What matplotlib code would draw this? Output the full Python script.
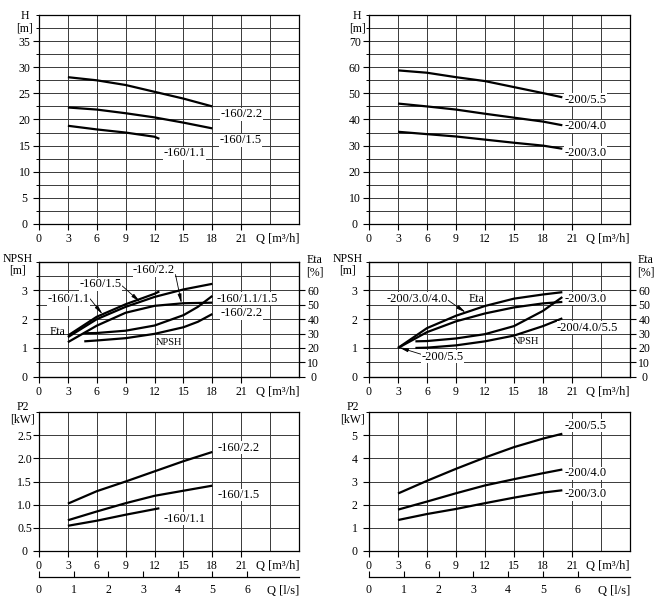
import numpy as np
import matplotlib.pyplot as plt
from matplotlib.ticker import FuncFormatter

plt.rcParams['font.family'] = ['Liberation Serif', 'DejaVu Serif']
plt.rcParams['font.size'] = 8.5

# ---- data ----
# 160 series (m3/h)
q_160 = [3, 6, 9, 12, 15, 18]
q_160_11 = [3, 6, 9, 12, 12.5]
h_160_22 = [28.1, 27.5, 26.6, 25.3, 24.0, 22.5]
h_160_15 = [22.3, 21.9, 21.2, 20.4, 19.4, 18.3]
h_160_11 = [18.8, 18.1, 17.5, 16.7, 16.3]

eta_160_15 = [27.5, 40.0, 48.6, 55.5, 60.7, 64.6]
eta_160_22 = [24.0, 35.5, 44.5, 49.3, 51.1, 51.5]
eta_160_11 = [28.6, 41.7, 50.4, 57.7, 59.3]

q_160_npsh = [4.7, 6, 9, 12, 15, 16.5, 18]
npsh_160_1115 = [1.51, 1.52, 1.60, 1.78, 2.14, 2.43, 2.81]
npsh_160_22 = [1.23, 1.26, 1.34, 1.49, 1.72, 1.91, 2.18]

p2_160_22 = [1.02, 1.29, 1.50, 1.72, 1.94, 2.14]
p2_160_15 = [0.66, 0.85, 1.03, 1.19, 1.30, 1.41]
p2_160_11 = [0.54, 0.65, 0.78, 0.90, 0.92]

# 200 series (m3/h)
q_200 = [3, 6, 9, 12, 15, 18, 20]
h_200_55 = [58.8, 57.9, 56.2, 54.7, 52.4, 50.1, 48.5]
h_200_40 = [46.1, 45.0, 43.8, 42.2, 40.7, 39.2, 37.8]
h_200_30 = [35.3, 34.4, 33.5, 32.3, 31.1, 30.0, 28.8]

eta_200_3040 = [20.0, 33.8, 42.4, 49.2, 54.3, 57.2, 58.8]
eta_200_55 = [20.0, 31.0, 38.5, 44.0, 48.2, 51.0, 52.0]

q_200_npsh = [4.8, 6, 9, 12, 15, 18, 20]
npsh_200_30 = [1.23, 1.24, 1.33, 1.48, 1.76, 2.29, 2.77]
npsh_200_4055 = [1.00, 1.01, 1.09, 1.23, 1.43, 1.76, 2.03]

p2_200_55 = [2.48, 3.03, 3.55, 4.04, 4.49, 4.86, 5.07]
p2_200_40 = [1.78, 2.13, 2.49, 2.83, 3.10, 3.36, 3.52]
p2_200_30 = [1.33, 1.59, 1.81, 2.06, 2.30, 2.52, 2.62]

x_ticks = list(range(0, 22, 3))
ls_ticks = list(range(0, 7))

W, H = 666, 610
fig = plt.figure(figsize=(W / 100, H / 100), dpi=100)

cols = [(39, 299), (369, 630)]
rows = [(15, 224), (261.7, 376.7), (412.3, 550.7)]


def make_ax(col, row):
    x0, x1 = cols[col]
    y0, y1 = rows[row]
    return fig.add_axes([x0 / W, 1 - y1 / H, (x1 - x0) / W, (y1 - y0) / H])


def center_ylabels(ax):
    # tick numbers sit centred in the margin, as in the original sheet
    ax.tick_params(axis='y', which='major', pad=6)
    for t in ax.get_yticklabels():
        t.set_horizontalalignment('center')


def setup(ax, ymax, ymajor, ygrid, fmt=None):
    ax.set_xlim(0, 27)
    ax.set_ylim(0, ymax)
    ax.set_xticks(x_ticks)
    ax.set_xticks([24], minor=True)
    ax.set_yticks(np.arange(0, ymax - 1e-9, ymajor))
    ax.set_yticks(np.arange(0, ymax + 1e-9, ygrid), minor=True)
    if fmt:
        ax.yaxis.set_major_formatter(FuncFormatter(fmt))
    ax.grid(True, which='both', color='#3a3a3a', lw=0.7)
    ax.set_axisbelow(True)
    ax.tick_params(which='major', direction='out', length=4.3, width=0.8, pad=2.5)
    ax.tick_params(axis='y', which='minor', direction='out', length=2.2, width=0.7)
    ax.tick_params(axis='x', which='minor', length=0)
    center_ylabels(ax)
    for s in ax.spines.values():
        s.set_linewidth(0.9)
    ax.annotate('Q [m³/h]', xy=(1, 0), xycoords='axes fraction',
                xytext=(0, -6.5), textcoords='offset points', ha='right', va='top',
                fontsize=9)


def unit_left(ax, text, dy, dx=-4.3):
    ax.annotate(text, xy=(0, 1), xycoords='axes fraction', xytext=(dx, dy),
                textcoords='offset points', ha='right', va='center',
                multialignment='center', linespacing=1.05, fontsize=8.5)


def eta_axis(ax):
    ax2 = ax.twinx()
    ax2.set_ylim(0, 80)
    ax2.set_yticks(range(0, 61, 10))
    ax2.tick_params(direction='out', length=4.3, width=0.8)
    center_ylabels(ax2)
    ax2.annotate('Eta\n[%]', xy=(1, 1), xycoords='axes fraction', xytext=(5, -3.6),
                 textcoords='offset points', ha='left', va='center',
                 multialignment='center', linespacing=1.05, fontsize=8.5)
    return ax2


def lab(ax, x, y, text, **kw):
    ax.text(x, y, text, ha=kw.pop('ha', 'left'), va='center', fontsize=9,
            bbox=dict(facecolor='white', edgecolor='none', pad=0.3), zorder=4, **kw)


def leader(ax, text, tip, txt, relpos):
    ax.annotate(text, xy=tip, xytext=txt, ha='left', va='center', fontsize=9,
                bbox=dict(facecolor='white', edgecolor='none', pad=0.3),
                arrowprops=dict(arrowstyle='-|>,head_length=0.6,head_width=0.12',
                                color='black', lw=0.6, relpos=relpos,
                                shrinkA=0, shrinkB=0), zorder=4)


def flow_ls(ax):
    sec = ax.secondary_xaxis(-0.19, functions=(lambda q: q / 3.6, lambda l: l * 3.6))
    sec.set_xticks(ls_ticks)
    sec.tick_params(direction='in', length=4.3, width=0.8, pad=5)
    sec.spines['bottom'].set_linewidth(0.9)
    ax.annotate('Q [l/s]', xy=(1, -0.19), xycoords='axes fraction',
                xytext=(0, -5.5), textcoords='offset points', ha='right', va='top',
                fontsize=9)


curve = dict(color='black', lw=1.6, solid_capstyle='butt')

# ---- head, 160 ----
ax = make_ax(0, 0)
setup(ax, 40, 5, 2.5)
unit_left(ax, 'H\n[m]', -5.4)
ax.plot(q_160, h_160_22, **curve)
ax.plot(q_160, h_160_15, **curve)
ax.plot(q_160_11, h_160_11, **curve)
lab(ax, 18.86, 21.0, '-160/2.2')
lab(ax, 18.76, 16.0, '-160/1.5')
lab(ax, 12.9, 13.5, '-160/1.1')

# ---- head, 200 ----
ax = make_ax(1, 0)
setup(ax, 80, 10, 5)
unit_left(ax, 'H\n[m]', -5.4, dx=-2.5)
ax.plot(q_200, h_200_55, **curve)
ax.plot(q_200, h_200_40, **curve)
ax.plot(q_200, h_200_30, **curve)
lab(ax, 20.2, 47.6, '-200/5.5')
lab(ax, 20.2, 37.4, '-200/4.0')
lab(ax, 20.2, 27.3, '-200/3.0')

# ---- NPSH / Eta, 160 ----
ax = make_ax(0, 1)
setup(ax, 4, 1, 0.5)
unit_left(ax, 'NPSH\n[m]', -2.2)
ax2 = eta_axis(ax)
ax.plot(q_160_npsh, npsh_160_1115, **curve)
ax.plot(q_160_npsh, npsh_160_22, **curve)
ax2.plot(q_160, eta_160_15, **curve)
ax2.plot(q_160, eta_160_22, **curve)
ax2.plot(q_160_11, eta_160_11, **curve)
leader(ax2, '-160/1.5', (10.5, np.interp(10.5, q_160, eta_160_15)), (4.23, 64.2), (1, 0.4))
leader(ax2, '-160/1.1', (6.6, np.interp(6.6, q_160_11, eta_160_11)), (0.87, 53.8), (1, 0.6))
leader(ax2, '-160/2.2', (14.8, np.interp(14.8, q_160, eta_160_22)), (9.76, 74.0), (1, 0.3))
lab(ax, 18.42, 2.71, '-160/1.1/1.5')
lab(ax, 18.84, 2.20, '-160/2.2')
ax.text(1.97, 1.57, 'Eta', ha='center', va='center', fontsize=8.5)
ax.text(13.47, 1.18, 'NPSH', ha='center', va='center', fontsize=7.5)

# ---- NPSH / Eta, 200 ----
ax = make_ax(1, 1)
setup(ax, 4, 1, 0.5)
unit_left(ax, 'NPSH\n[m]', -2.2)
ax2 = eta_axis(ax)
ax.plot(q_200_npsh, npsh_200_30, **curve)
ax.plot(q_200_npsh, npsh_200_4055, **curve)
ax2.plot(q_200, eta_200_3040, **curve)
ax2.plot(q_200, eta_200_55, **curve)
leader(ax2, '-200/3.0/4.0', (10.0, np.interp(10.0, q_200, eta_200_3040)), (1.77, 54.3), (1, 0.4))
leader(ax2, '-200/5.5', (3.1, np.interp(3.1, q_200, eta_200_55)), (5.46, 13.8), (0, 0.7))
ax2.text(11.15, 54.3, 'Eta', ha='center', va='center', fontsize=8.5)
lab(ax, 20.2, 2.71, '-200/3.0')
lab(ax, 19.45, 1.70, '-200/4.0/5.5')
ax.text(16.27, 1.24, 'NPSH', ha='center', va='center', fontsize=7.5)

# ---- power, 160 ----
ax = make_ax(0, 2)
setup(ax, 3, 0.5, 0.5, fmt=lambda v, p: '0' if v == 0 else f'{v:.1f}')
unit_left(ax, 'P2\n[kW]', -1.0, dx=-3)
flow_ls(ax)
ax.plot(q_160, p2_160_22, **curve)
ax.plot(q_160, p2_160_15, **curve)
ax.plot(q_160_11, p2_160_11, **curve)
lab(ax, 18.59, 2.23, '-160/2.2')
lab(ax, 18.59, 1.21, '-160/1.5')
lab(ax, 12.98, 0.69, '-160/1.1')

# ---- power, 200 ----
ax = make_ax(1, 2)
setup(ax, 6, 1, 1)
unit_left(ax, 'P2\n[kW]', -1.0, dx=-3)
flow_ls(ax)
ax.plot(q_200, p2_200_55, **curve)
ax.plot(q_200, p2_200_40, **curve)
ax.plot(q_200, p2_200_30, **curve)
lab(ax, 20.2, 5.42, '-200/5.5')
lab(ax, 20.2, 3.36, '-200/4.0')
lab(ax, 20.2, 2.45, '-200/3.0')

fig.savefig('out.png', dpi=100, facecolor='white')
